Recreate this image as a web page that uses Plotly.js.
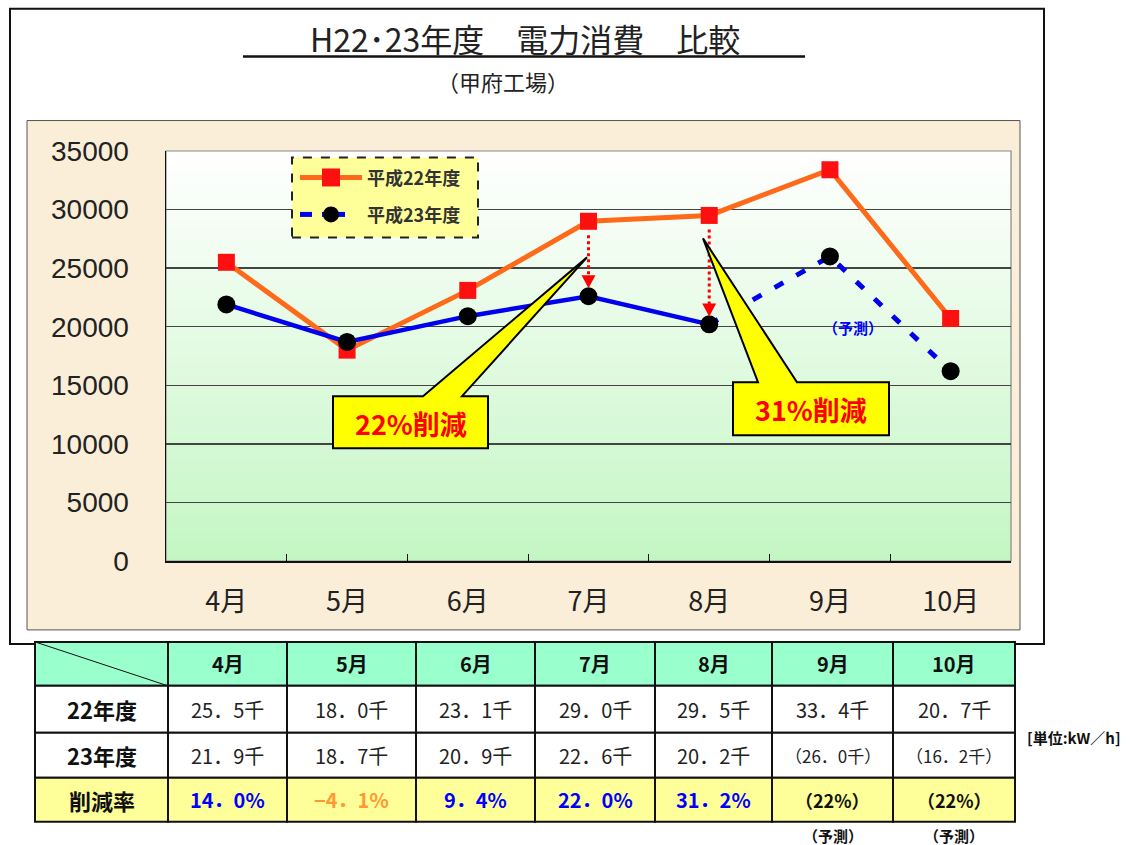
<!DOCTYPE html>
<html><head><meta charset="utf-8">
<script src="https://cdn.plot.ly/plotly-3.0.1.min.js"></script>
<style>html,body{margin:0;padding:0;background:#fff;}#chart{width:1130px;height:845px;}</style>
</head><body><div id="chart"></div>
<script>
// ---------- DATA ----------
const months = ['4月','5月','6月','7月','8月','9月','10月'];
const series22Name = '平成22年度';
const series23Name = '平成23年度';
const v22 = [25500, 18000, 23100, 29000, 29500, 33400, 20700];
const v23 = [21900, 18700, 20900, 22600, 20200, 26000, 16200];
const lastActualIdx = 4;               // 8月: 23年度 values after this are forecasts
const rowLabels = ['22年度','23年度','削減率'];
const rateLabels = ['14．0%','−4．1%','9．4%','22．0%','31．2%','（22%）','（22%）'];
const rateKinds  = ['up','down','up','up','up','fc','fc'];
const callout1Text = '22%削減';
const callout2Text = '31%削減';
const forecastText = '（予測）';
const unitText = '[単位:kW／h]';
const titleText = 'H22･23年度　電力消費　比較';
const subTitleText = '（甲府工場）';

// ---------- GEOMETRY ----------
const PL=166, PR=1011, PT=150.5, PB=561;
const YMAX=35000;
const px = p => (p-PL)/(PR-PL);
const py = p => (PB-p)/(PB-PT);
const xPix = i => PL + (i+0.5)*(PR-PL)/months.length;
const yPix = v => PB - v/YMAX*(PB-PT);
const JP = '"Noto Sans CJK JP", "Noto Sans", sans-serif';

const shapes = [];
const ann = [];
function rectPx(x0,y0,x1,y1,opt){
  shapes.push(Object.assign({type:'rect',xref:'paper',yref:'paper',x0:px(x0),x1:px(x1),y0:py(y1),y1:py(y0),layer:'above'},opt));
}
function linePx(x0,y0,x1,y1,opt){
  shapes.push(Object.assign({type:'line',xref:'paper',yref:'paper',x0:px(x0),x1:px(x1),y0:py(y0),y1:py(y1),layer:'above'},opt));
}
function pathPx(pts,opt){
  const d = pts.map((p,i)=>(i?'L':'M')+px(p[0]).toFixed(5)+','+py(p[1]).toFixed(5)).join(' ')+' Z';
  shapes.push(Object.assign({type:'path',xref:'paper',yref:'paper',path:d,layer:'above'},opt));
}
function textPx(x,y,text,size,color,opt){
  ann.push(Object.assign({xref:'paper',yref:'paper',x:px(x),y:py(y),text:text,showarrow:false,
    xanchor:'center',yanchor:'middle',font:{family:JP,size:size,color:color}},opt||{}));
}

// outer frame
rectPx(10,8,1044,644,{layer:'below',line:{color:'#111',width:2},fillcolor:'#ffffff'});
// beige chart panel
rectPx(27,120,1020,630,{layer:'below',line:{color:'#555',width:1},fillcolor:'#faeed8'});
// gradient plot background
const NB=60;
for(let k=0;k<NB;k++){
  const t=(k+0.5)/NB;
  const r=Math.round(255-(255-196)*t), g=Math.round(255-(255-246)*t), b=Math.round(255-(255-196)*t);
  const y0=PT+(PB-PT)*k/NB, y1=PT+(PB-PT)*(k+1)/NB+0.5;
  rectPx(PL,y0,PR,y1,{layer:'below',line:{width:0},fillcolor:`rgb(${r},${g},${b})`});
}
rectPx(PL,PT,PR,PB,{layer:'below',line:{color:'#888',width:1.2},fillcolor:'rgba(0,0,0,0)'});

// title
textPx(525,37,titleText,32,'#222');
linePx(243,56,805,56,{line:{color:'#111',width:2.5}});
textPx(503,80,subTitleText,22,'#222');

// legend box
rectPx(292,157,478,237,{line:{color:'#222',width:2,dash:'dash'},fillcolor:'#ffff99'});
linePx(300,177,362,177,{line:{color:'#ff6a1a',width:5}});
rectPx(322,168,340,186,{line:{width:0},fillcolor:'#ff1010'});
textPx(365,177,'<b>'+series22Name+'</b>',18,'#333',{xanchor:'left'});
linePx(300,214,312,214,{line:{color:'#0000ee',width:5}});
linePx(322,214,345,214,{line:{color:'#0000ee',width:5}});
shapes.push({type:'circle',xref:'paper',yref:'paper',x0:px(323),x1:px(339),y0:py(222),y1:py(206),fillcolor:'#000',line:{width:0},layer:'above'});
textPx(365,214,'<b>'+series23Name+'</b>',18,'#333',{xanchor:'left'});

// red dotted arrows (22→23 reduction) for the last two measured months
[3,4].forEach(i=>{
  const x=xPix(i), yA=yPix(v22[i])+14, yB=yPix(v23[i])-8;
  linePx(x,yA,x,yB-11,{line:{color:'#ff0000',width:3,dash:'dot'}});
  pathPx([[x-7,yB-13],[x+7,yB-13],[x,yB]],{line:{width:0},fillcolor:'#ff0000'});
});

// callouts
function callout(bx0,by0,bx1,by1,wl,wr,tip,text){
  pathPx([[bx0,by0],[wl,by0],tip,[wr,by0],[bx1,by0],[bx1,by1],[bx0,by1]],
    {line:{color:'#000',width:2},fillcolor:'#ffff00'});
  textPx((bx0+bx1)/2,(by0+by1)/2+1,'<b>'+text+'</b>',27,'#ff0000');
}
callout(333,396,488,448,423,462,[587,257],callout1Text);
callout(733,382,889,435,758,797,[703,238],callout2Text);
textPx(853,327,'<b>'+forecastText+'</b>',15,'#0000ff');

// ---------- TABLE ----------
const colB=[35,168,287,416,535,655,772,893,1015];
const rowB=[642,686,733,778,822];
const rowFill=['#99ffcc','#ffffff','#ffffff','#ffff99'];
for(let r=0;r<4;r++){
  for(let c=0;c<8;c++){
    rectPx(colB[c],rowB[r],colB[c+1],rowB[r+1],{line:{color:'#111',width:2},fillcolor:rowFill[r]});
  }
}
linePx(colB[0],rowB[0],colB[1],rowB[1],{line:{color:'#111',width:1}});
const cx=c=>(colB[c]+colB[c+1])/2, cy=r=>(rowB[r]+rowB[r+1])/2;
const fmtK=v=>(v/1000).toFixed(1).replace('.','．')+'千';
months.forEach((m,i)=>{
  textPx(cx(i+1),cy(0),'<b>'+m+'</b>',20,'#111');
  textPx(cx(i+1),cy(1),fmtK(v22[i]),20,'#222');
  const fc=i>lastActualIdx;
  textPx(cx(i+1),cy(2),fc?'（'+fmtK(v23[i])+'）':fmtK(v23[i]),fc?17:20,'#222');
  const col=rateKinds[i]==='up'?'#0000ff':(rateKinds[i]==='down'?'#ff9933':'#111');
  textPx(cx(i+1),cy(3),'<b>'+rateLabels[i]+'</b>',rateKinds[i]==='fc'?18:20,col);
  if(fc) textPx(cx(i+1),836,'<b>'+forecastText+'</b>',15,'#111');
});
rowLabels.forEach((l,r)=>textPx(cx(0),cy(r+1),'<b>'+l+'</b>',22,'#111'));
textPx(1074,738,'<b>'+unitText+'</b>',15,'#111');

// ---------- TRACES ----------
const traces=[
  {x:months,y:v22,type:'scatter',mode:'lines+markers',name:series22Name,
   line:{color:'#ff6a1a',width:5},marker:{symbol:'square',size:17,color:'#ff1010'}},
  {x:months.slice(0,lastActualIdx+1),y:v23.slice(0,lastActualIdx+1),type:'scatter',mode:'lines',
   line:{color:'#0000ee',width:4.5}},
  {x:months.slice(lastActualIdx),y:v23.slice(lastActualIdx),type:'scatter',mode:'lines',
   line:{color:'#0000ee',width:5,dash:'10px,15px'}},
  {x:months,y:v23,type:'scatter',mode:'markers',name:series23Name,
   marker:{symbol:'circle',size:18,color:'#000'}}
];

const layout={
  width:1130,height:845,
  margin:{l:PL,r:1130-PR,t:PT,b:845-PB},
  paper_bgcolor:'#ffffff',plot_bgcolor:'rgba(0,0,0,0)',
  showlegend:false,
  xaxis:{type:'category',range:[-0.5,6.5],showgrid:false,showline:true,linecolor:'#111',linewidth:1.5,
    ticks:'inside',tickson:'boundaries',ticklen:7,tickcolor:'#111',
    tickfont:{family:JP,size:27,color:'#222'},ticklabelstandoff:16,fixedrange:true},
  yaxis:{range:[0,YMAX],dtick:5000,tickformat:'d',showgrid:true,gridcolor:'#444',gridwidth:1.5,zeroline:false,
    showline:true,linecolor:'#111',linewidth:1.5,ticks:'',
    tickfont:{family:'"Liberation Sans", Arial, sans-serif',size:28,color:'#222'},ticklabelstandoff:30,fixedrange:true},
  shapes:shapes,annotations:ann
};
Plotly.newPlot('chart',traces,layout,{displayModeBar:false,staticPlot:true});
</script></body></html>
